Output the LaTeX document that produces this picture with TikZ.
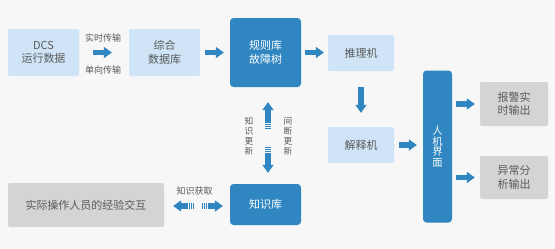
\documentclass[tikz,border=0pt]{standalone}
\usepackage{fontspec}
\setmainfont{Noto Sans CJK SC}
\usetikzlibrary{arrows.meta,calc}
\definecolor{bgc}{HTML}{F7F7F7}
\definecolor{dblue}{HTML}{2F86C1}
\definecolor{lblue}{HTML}{CFE5F7}
\definecolor{gbox}{HTML}{D5D4D4}
\definecolor{txt}{HTML}{5A5A5A}
\begin{document}
\begin{tikzpicture}[x=1pt,y=-1pt,
 box/.style={inner sep=0pt, align=center, font=\fontsize{11}{13.5}\selectfont, rounded corners=2pt},
 light/.style={box, fill=lblue, text=txt},
 dark/.style={box, fill=dblue, text=white, rounded corners=3.5pt},
 grey/.style={box, fill=gbox, text=txt},
 lbl/.style={font=\fontsize{9}{10}\selectfont, text=txt, inner sep=0pt, align=center},
 vlbl/.style={lbl, font=\fontsize{8.7}{9.9}\selectfont},
 barrow/.style={draw=dblue, line width=5.5pt, -{Triangle[width=11.5pt,length=8pt,line width=0pt]}, dash pattern=on 1.4pt off 0.6pt on 1.4pt off 0.6pt on 1.4pt off 0.6pt on 60pt}
]
\useasboundingbox (0,0) rectangle (555,249);
\fill[bgc] (0,0) rectangle (555,249);
\node[light, minimum width=71pt, minimum height=47pt] (dcs) at (43.5,52.5) {DCS\\运行数据};
\node[light, minimum width=71pt, minimum height=47pt] (zh) at (164.5,52.5) {综合\\数据库};
\node[dark, minimum width=71pt, minimum height=69pt] (gz) at (265.5,52.5) {规则库\\故障树};
\node[light, minimum width=66pt, minimum height=36pt] (tl) at (361,53) {推理机};
\node[light, minimum width=66pt, minimum height=36pt] (js) at (361,145) {解释机};
\node[dark, minimum width=29pt, minimum height=152pt, font=\fontsize{10.3}{10.6}\selectfont] (rj) at (437.5,146.5) {人\\机\\界\\面};
\node[grey, minimum width=68pt, minimum height=44pt] (bj) at (514,104) {报警实\\时输出};
\node[grey, minimum width=68pt, minimum height=43pt] (yc) at (514,177.5) {异常分\\析输出};
\node[dark, minimum width=71pt, minimum height=41pt] (zsk) at (265.5,204.5) {知识库};
\node[grey, minimum width=156pt, minimum height=44pt] (sj) at (86,205) {实际操作人员的经验交互};

\node[lbl] (lss) at (103,38) {实时传输};
\node[lbl] (ldx) at (103,70) {单向传输};
\node[lbl] (lhq) at (194.5,191) {知识获取};
\node[vlbl] (lgx) at (249,136) {知\\识\\更\\新};
\node[vlbl] (ljd) at (288,136) {间\\断\\更\\新};

\draw[barrow] ([xshift=14pt]dcs.east) -- ([xshift=-17pt]zh.west);
\draw[barrow] ([xshift=5pt]zh.east) -- ([xshift=-6pt]gz.west);
\draw[barrow] ([xshift=4pt]gz.east) -- ([xshift=-4pt]gz.east -| tl.west);
\draw[barrow] ([yshift=-16pt]tl.south) -- ([yshift=14pt]js.north);
\draw[barrow] ([xshift=5pt]js.east) -- ([xshift=-6pt]js.east -| rj.west);
\draw[barrow] ([xshift=4pt]bj.west -| rj.east) -- ([xshift=-5pt]bj.west);
\draw[barrow] ([xshift=4pt]yc.west -| rj.east) -- ([xshift=-5pt]yc.west);
\draw[barrow] ([xshift=2.5pt,yshift=-42pt]gz.south) -- ([xshift=2.5pt,yshift=-15pt]gz.south);
\draw[barrow] ([xshift=2.5pt,yshift=37pt]zsk.north) -- ([xshift=2.5pt,yshift=11pt]zsk.north);
\draw[barrow] ([xshift=30pt,yshift=-1pt]sj.east) -- ([xshift=9pt,yshift=-1pt]sj.east);
\draw[barrow] ([xshift=-28pt,yshift=-1.5pt]zsk.west) -- ([xshift=-7pt,yshift=-1.5pt]zsk.west);
\end{tikzpicture}
\end{document}
